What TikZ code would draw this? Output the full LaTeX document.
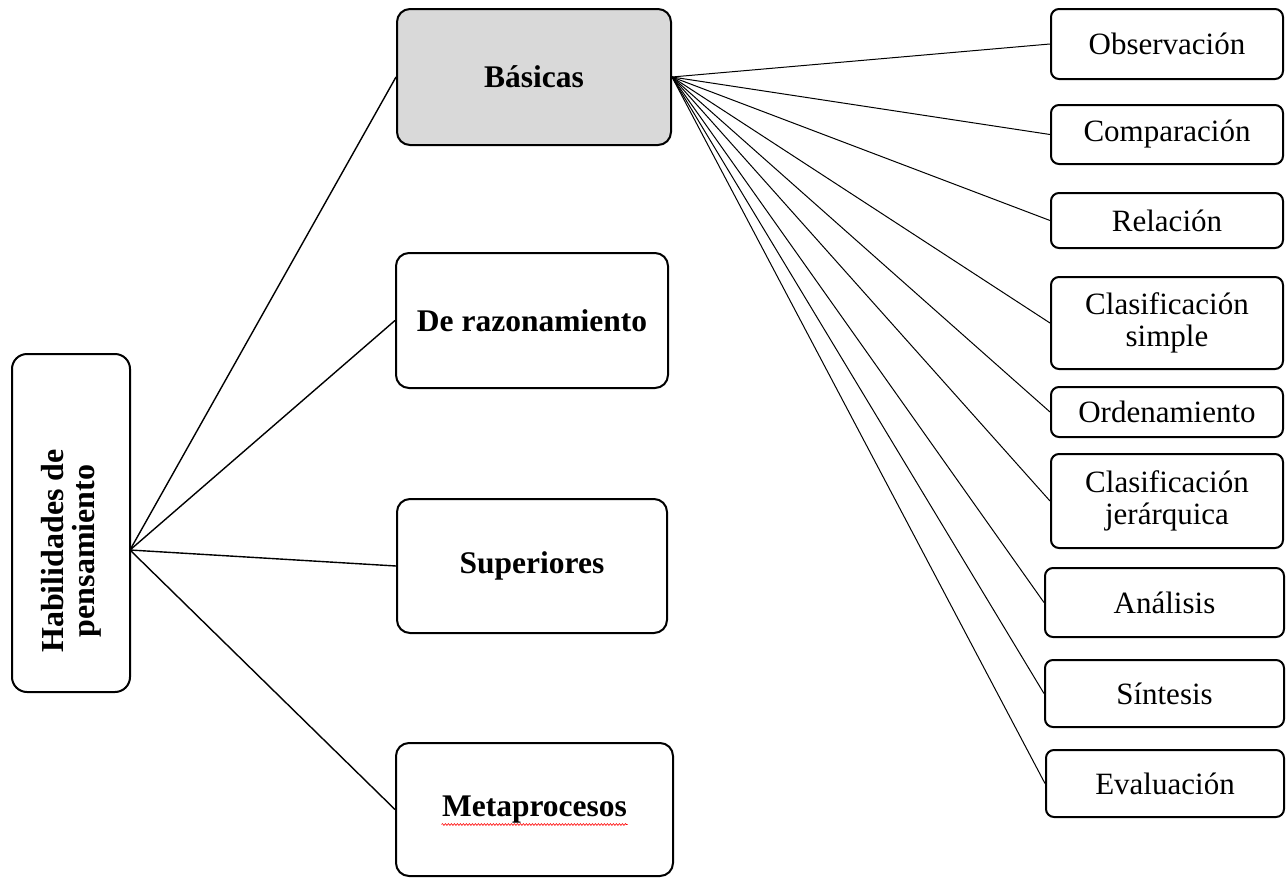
\documentclass[tikz,border=0pt]{standalone}
\usepackage{fontspec}
\setmainfont{Liberation Serif}
\usetikzlibrary{decorations.pathmorphing}
\definecolor{basfill}{HTML}{D9D9D9}
\tikzset{
  box/.style={draw=black, line width=2pt, inner sep=0pt, align=center},
  midbox/.style={box, rounded corners=13pt, font=\fontsize{31.5}{34}\selectfont\bfseries},
  leafbox/.style={box, rounded corners=8pt, font=\fontsize{31}{32}\selectfont},
  hubline/.style={line width=1.4pt},
  leafline/.style={line width=1pt},
}
\begin{document}
\begin{tikzpicture}[x=1pt, y=-1pt]
\useasboundingbox (0,0) rectangle (1286,878);

% root box with rotated title
\node[box, rounded corners=15pt, minimum width=118pt, minimum height=338pt] (hab) at (71,523) {};
\node[rotate=90, align=center, inner sep=0pt, font=\fontsize{32}{31}\selectfont\bfseries] (habtxt) at (71,551) {Habilidades de\\pensamiento};
\coordinate (hub) at (130,550);

% second level
\node[midbox, fill=basfill, minimum width=274pt, minimum height=136pt] (bas) at (534,77) {Básicas};
\node[midbox, minimum width=272pt, minimum height=135pt] (raz) at (532,320.5) {De razonamiento};
\node[midbox, minimum width=270pt, minimum height=134pt] (sup) at (532,566) {Superiores};
\node[midbox, minimum width=277pt, minimum height=133pt] (met) at (534.5,809.5) {Metaprocesos};
\draw[red, line width=0.6pt, decorate, decoration={snake, amplitude=0.9pt, segment length=3pt}]
  (met.center) ++(-93,15) coordinate (wavyA) -- ++(186,0) coordinate (wavyB);

% leaves
\node[leafbox, minimum width=232pt, minimum height=70pt] (obs) at (1167,44) {Observación};
\node[leafbox, minimum width=232pt, minimum height=59pt] (com) at (1167,134.5) {Comparación};
\node[leafbox, minimum width=232pt, minimum height=55pt] (rel) at (1167,220.5) {Relación};
\node[leafbox, minimum width=232pt, minimum height=92pt] (cls) at (1167,323) {Clasificación\\simple};
\node[leafbox, minimum width=232pt, minimum height=50pt] (ord) at (1167,412) {Ordenamiento};
\node[leafbox, minimum width=232pt, minimum height=94pt] (clj) at (1167,501) {Clasificación\\jerárquica};
\node[leafbox, minimum width=239pt, minimum height=69pt] (ana) at (1164.5,602.5) {Análisis};
\node[leafbox, minimum width=239pt, minimum height=67pt] (sin) at (1164.5,693.5) {Síntesis};
\node[leafbox, minimum width=238pt, minimum height=67pt] (eva) at (1165,783.5) {Evaluación};

% connectors
\foreach \t in {bas,raz,sup,met} \draw[hubline] (hub) -- (\t.west);
\foreach \t in {obs,com,rel,cls,ord,clj,ana,sin,eva} \draw[leafline] (bas.east) -- (\t.west);
\end{tikzpicture}
\end{document}
